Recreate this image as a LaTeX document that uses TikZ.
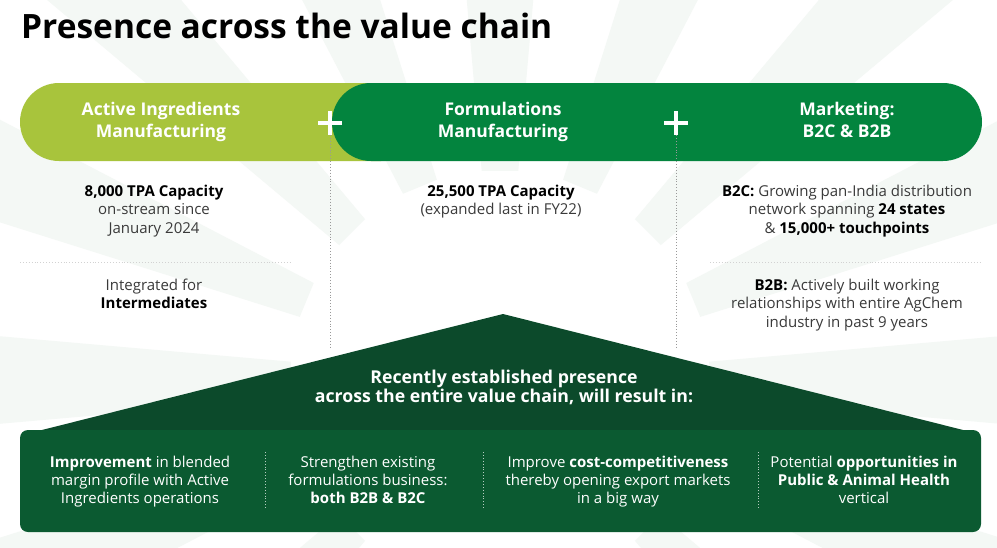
\documentclass[tikz,border=0pt]{standalone}
\usepackage{fontspec}
\setmainfont{Open Sans}
\usetikzlibrary{calc}
\definecolor{lgreen}{HTML}{A8C43C}
\definecolor{dgreen}{HTML}{03843E}
\definecolor{trig}{HTML}{0C4A2B}
\definecolor{boxg}{HTML}{0B5A31}
\definecolor{txt}{HTML}{3A3A3A}
\definecolor{ray}{HTML}{F4F8F5}
\begin{document}
\begin{tikzpicture}[x=1pt,y=-1pt,
  title/.style={font=\bfseries\fontsize{33.5}{38}\selectfont, text=black, anchor=base west, inner sep=0},
  hdr/.style={font=\bfseries\fontsize{17.5}{22}\selectfont, text=white, align=center, anchor=base, inner sep=0},
  body/.style={font=\fontsize{15}{18.5}\selectfont, text=txt, align=center, anchor=base, inner sep=0},
  tri/.style={font=\bfseries\fontsize{17.7}{19}\selectfont, text=white, align=center, anchor=base, inner sep=0},
  wbody/.style={font=\fontsize{15}{18}\selectfont, text=white, align=center, anchor=base, inner sep=0},
  vdot/.style={draw=gray!80, dotted, line width=0.9},
  hdot/.style={draw=gray!35, dotted, line width=0.9},
  wdot/.style={draw=white!70!boxg, dotted, line width=0.9},
  plus/.style={draw=white, line width=3.6}]
\useasboundingbox (0,0) rectangle (997,547);
\fill[white] (0,0) rectangle (997,547);
% faint sunburst
\begin{scope}
\clip (0,0) rectangle (997,547);
\coordinate (sc) at (500,380);
\foreach \a in {0,22.5,...,350}{
  \fill[ray] ($(sc)+(\a-5:210)$) -- ($(sc)+(\a+5:210)$) -- ($(sc)+(\a+5:800)$) -- ($(sc)+(\a-5:800)$) -- cycle;
}
\end{scope}
% title
\node[title] (ttl) at (21,38) {Presence across the value chain};
% pills
\fill[lgreen, rounded corners=39] (20,83) rectangle (420,161);
\fill[dgreen, rounded corners=39] (332,83) rectangle (982,161);
\node[hdr] (h1) at (161,137) {Active Ingredients\\Manufacturing};
\node[hdr] (h2) at (503,137) {Formulations\\Manufacturing};
\node[hdr] (h3) at (847,137) {Marketing:\\B2C \& B2B};
% plus signs
\coordinate (p1) at (330,123);
\coordinate (p2) at (676,123);
\draw[plus] ($(p1)+(-12,0)$) -- ($(p1)+(12,0)$);
\draw[plus] ($(p1)+(0,-12)$) -- ($(p1)+(0,12)$);
\draw[plus] ($(p2)+(-12,0)$) -- ($(p2)+(12,0)$);
\draw[plus] ($(p2)+(0,-12)$) -- ($(p2)+(0,12)$);
\coordinate (e1) at (330,347);
\coordinate (e2) at (676,347);
\draw[vdot] ($(p1)+(0,12)$) -- (e1);
\draw[vdot] ($(p2)+(0,12)$) -- (e2);
% column texts
\node[body] (t1) at (154,233) {\textbf{\color{black}8,000 TPA Capacity}\\on-stream since\\January 2024};
\coordinate (l1a) at (20,262); \coordinate (l1b) at (290,262);
\draw[hdot] (l1a) -- (l1b);
\node[body] (t2) at (154,308.5) {Integrated for\\\textbf{\color{black}Intermediates}};
\node[body] (t3) at (501,214.5) {\textbf{\color{black}25,500 TPA Capacity}\\(expanded last in FY22)};
\node[body] (t4) at (847,233) {\textbf{\color{black}B2C:} Growing pan-India distribution\\network spanning \textbf{\color{black}24 states}\\\& \textbf{\color{black}15,000+ touchpoints}};
\coordinate (l2a) at (710,262); \coordinate (l2b) at (982,262);
\draw[hdot] (l2a) -- (l2b);
\node[body] (t5) at (847,327) {\textbf{\color{black}B2B:} Actively built working\\relationships with entire AgChem\\industry in past 9 years};
% triangle
\fill[trig] (503,314) -- (975,433) -- (30,433) -- cycle;
\node[tri] (tt) at (504,402) {Recently established presence\\across the entire value chain, will result in:};
% bottom box
\fill[boxg, rounded corners=8] (20,430) rectangle (981,532);
\node[wbody] (b1) at (140,503.5) {\textbf{Improvement} in blended\\margin profile with Active\\Ingredients operations};
\node[wbody] (b2) at (368,503.5) {Strengthen existing\\formulations business:\\\textbf{both B2B \& B2C}};
\node[wbody] (b3) at (618,503.5) {Improve \textbf{cost-competitiveness}\\thereby opening export markets\\in a big way};
\node[wbody] (b4) at (864,503.5) {Potential \textbf{opportunities in}\\\textbf{Public \& Animal Health}\\vertical};
\coordinate (s1a) at (265,452); \coordinate (s1b) at (265,509);
\coordinate (s2a) at (483,452); \coordinate (s2b) at (483,509);
\coordinate (s3a) at (758,452); \coordinate (s3b) at (758,509);
\draw[wdot] (s1a) -- (s1b);
\draw[wdot] (s2a) -- (s2b);
\draw[wdot] (s3a) -- (s3b);
\end{tikzpicture}
\end{document}
